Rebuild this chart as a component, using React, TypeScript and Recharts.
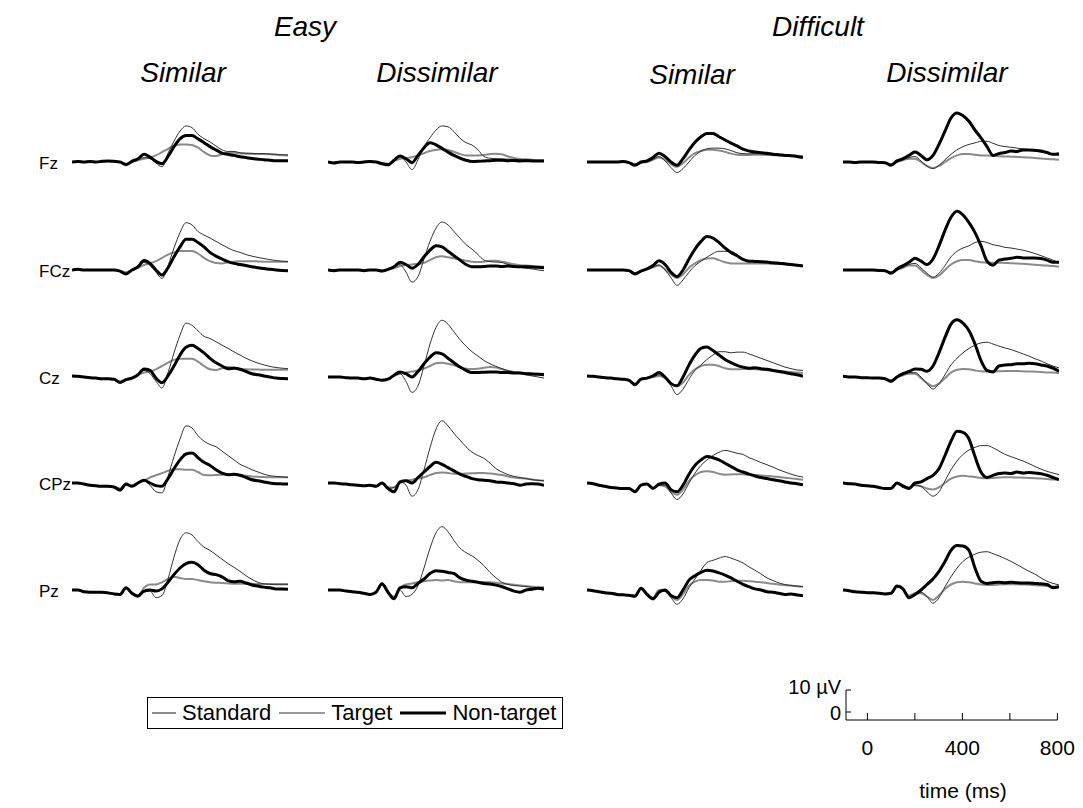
import React from 'react';
import { LineChart, Line, XAxis, YAxis } from 'recharts';

// time axis (ms), one sample every 25 ms
const times = [-100,-75,-50,-25,0,25,50,75,100,125,150,175,200,225,250,275,300,325,350,375,400,425,450,475,500,525,550,575,600,625,650,675,700,725,750,775,800];

const electrodes = ['Fz', 'FCz', 'Cz', 'CPz', 'Pz'];
const difficultyLabels = ['Easy', 'Difficult'];
const similarityLabels = ['Similar', 'Dissimilar', 'Similar', 'Dissimilar'];
const seriesNames = ['Standard', 'Target', 'Non-target'];
const scaleTimeTicks = [0, 200, 400, 600, 800];
const scaleTimeLabels = [0, 400, 800];
const scaleVoltTicks = [0, 10];

// ---- Fz ----
const fz_es_std = [0,0.2,0,0.2,0,0.2,0.3,0.2, 0,-0.8,0,0.8, 1.5,2,3,4.5, 6,7.3,7.9,8, 7.7,6.5,4.5,3, 2.7,3.5,4.2,4.2, 3.9,3.8,3.7,3.6, 3.6,3.5,3.3,3.1, 3];
const fz_es_tgt = [0,0.2,0,0.2,0,0.3,0.5,0.3, 0,-1,0.3,1, 2,1.5,-0.5,-2.2, 4,9.5,14,16.4, 15.6,12.6,10.6,9.1, 7.3,5.5,4.8,4.8, 4.2,4,3.9,3.8, 3.8,3.6,3.5,3.3, 3.2];
const fz_es_non = [0,0.2,0,0.2,0,0.3,0.5,0.3, 0,-1.2,0.3,1.5, 3.5,2.2,0.3,-0.8, 2.5,7,10.5,12, 12,10.5,8.8,7, 5.5,4,3.5,3, 2.4,2,1.6,1.3, 1,0.8,0.6,0.6, 0.6];

const fz_ed_std = [0,-0.3,0,0,0,-0.2,0,0.2, 0,-0.5,-0.8,0.5, 1.5,1.8,2.2,3, 4,5,5.5,5.8, 5.5,4.6,3.6,3, 3,3,3.2,3.6, 3.8,3.5,2.5,1.8, 1.4,1.2,1,0.8, 0.8];
const fz_ed_tgt = [0,-0.5,0,0,0,-0.2,0,0.2, 0,-0.8,-1.3,0.5, 2.5,0,-3.5,1, 7,11,14.5,16.4, 16,13.8,10.8,8.8, 7.7,5.5,2.5,1.7, 1.5,1.4,1.3,1.2, 1,0.9,0.8,0.6, 0.5];
const fz_ed_non = [0,-0.5,0,0,0,-0.2,0,0.2, 0,-0.8,-1.3,0.8, 2.7,1.5,-0.3,3, 6.5,8.8,7.8,6.2, 4.5,3,1.8,0.8, 0.2,0.3,0.5,0.6, 0.8,0.8,0.6,0.7, 0.5,0.6,0.5,0.5, 0.4];

const fz_ds_std = [0,0,0,0,0,0,0.2,-0.3, -1,-0.3,0,1, 2,1,-1,-2.2, -0.5,2,4,5, 5.6,5.6,5.2,4.6, 3.8,3.3,3.2,3.2, 3.3,3.3,3.2,3.1, 3,3,2.9,2.8, 2.7];
const fz_ds_tgt = [0,0,0,0,0,0,0.2,-0.3, -1.2,-0.3,0,1.2, 2.5,0.5,-2.5,-4.8, -3,0,3,5, 6,6.3,6.3,6, 5.2,4.2,3.8,3.7, 3.8,3.8,3.5,3.3, 3.1,2.9,2.7,2.5, 2.1];
const fz_ds_non = [0,0,0,0,0,0,0.2,-0.3, -1.5,0,0.5,2, 4,2.5,0,-1.5, 1.5,5.5,9,11.5, 13,13,11.5,10, 8.6,7.3,5.8,5, 4.5,4.2,4,3.5, 3.3,3,2.8,2.5, 2];

const fz_dd_std = [0,0,-0.2,0,0,0,-0.2,-0.3, -1,0,0.8,1.5, 1.5,0,-1.8,-2.7, -1.8,0,1.8,3, 3.6,3.6,3.3,3, 3,2.8,2.6,2.5, 2.4,2.3,2.2,2, 1.8,1.6,1.4,1.2, 1];
const fz_dd_tgt = [0,0,-0.2,0,0,0,-0.2,-0.3, -1,0,1,2, 2.5,0.5,-2,-3, -1.5,1,3.5,5.5, 7,8,8.7,9.4, 9.4,8.5,7.5,7, 6.7,6.3,6,5.5, 5,4.5,4,3.5, 3];
const fz_dd_non = [0,0,-0.2,0,0,0,-0.2,-0.3, -1.5,0.5,1.5,3, 4.5,3,1,3, 8,14,20,22.3, 21,18.5,14.5,11, 7,3,3.8,4.3, 5,4.8,5.5,5.5, 5.3,5,4.3,3.5, 3.8];

// ---- FCz ----
const fcz_es_std = [0,0.3,0,0,0,0,0,0, -0.5,-1,0,1, 2.3,3,4,5.5, 7,8,8.6,8.6, 8.6,7.5,5.5,4, 3.2,3,3.5,3.8, 4,4,4,3.9, 3.8,3.8,3.8,3.8, 3.8];
const fcz_es_tgt = [0,0.3,0,0,0,0,0,0, -0.5,-1.8,0,1.2, 3.5,2,-1,-3.8, 2,10,17,21.5, 20.5,17.5,15.9,14.5, 13,11.5,10,8.8, 8,7,6.3,5.7, 5.2,4.7,4.3,4, 3.8];
const fcz_es_non = [0,0.3,0,0,0,0,0,0, -0.5,-1.8,0,1.5, 4.3,3,0,-2.3, 1,6,10.5,14, 14,12.5,10.5,8, 6.3,5,3.8,3, 2.5,2,1.5,1, 0.7,0.3,0,-0.2, -0.3];

const fcz_ed_std = [0,-0.3,0,0,0,0,-0.3,0, 0,-0.3,0.2,0.8, 1.8,2.3,2.5,2.8, 3.3,4.5,5.8,6.2, 5.8,5.3,4.8,4.2, 3.8,3.6,3.8,4.2, 4.2,3.8,3.2,2.6, 2.2,2,1.8,1.6, 1.5];
const fcz_ed_tgt = [0,-0.3,0,0,0,0,-0.3,0, 0,-0.5,0.3,1, 2.5,-1,-5.5,-3, 5,13,19,21.8, 20.5,17.5,14.5,11.5, 9.5,7,4.5,3.8, 3.6,3.4,2.5,1.8, 1.2,0.8,0.5,0, -0.3];
const fcz_ed_non = [0,-0.3,0,0,0,0,-0.3,0, 0,-0.5,0.3,1.5, 3.5,2.5,0.8,2.5, 6,9,11,10.5, 8.5,6.5,4.5,2.5, 1.5,1.5,1.6,1.8, 1.8,1.6,1.8,1.6, 1.5,1.5,1.4,1.2, 1];

const fcz_ds_std = [0,0,0,0,0,0,0,-0.3, -1.5,-0.5,0.3,1.2, 2,0.3,-2,-3.6, -2,1,3,4.5, 5.2,5.3,4.5,3.5, 3,3,3,3, 3,3,2.9,2.8, 2.7,2.5,2.3,2.1, 2];
const fcz_ds_tgt = [0,0,0,0,0,0,0,-0.3, -1.5,-0.5,0.3,1.3, 2.3,0,-3.5,-7, -4.5,-1,2,4, 5.8,7.5,8.5,8.5, 8.5,7,5,4.3, 4,3.8,3.5,3.3, 3,2.8,2.5,2.2, 2];
const fcz_ds_non = [0,0,0,0,0,0,0,-0.3, -1.8,-0.5,0.5,2, 4.2,2.5,-1,-3, 0,5,9.5,13, 15.2,14.5,12.5,10, 8,6.5,4.8,4, 3.9,3.8,3.6,3.3, 3.1,2.8,2.5,2.2, 1.8];

const fcz_dd_std = [0,0,0,0,0,0,-0.2,-0.3, -1,0,1,2, 2,0,-2.2,-3.6, -2.5,0,2.5,4, 4.5,4.5,4,3.5, 3.3,3.3,3.3,3.2, 3.1,3,2.8,2.6, 2.4,2.2,2,1.8, 1.5];
const fcz_dd_tgt = [0,0,0,0,0,0,-0.2,-0.3, -1,0,1.2,2.5, 3,1,-1.5,-3.3, -1.5,2,6,8.5, 10,11,12.5,13, 12.5,11.5,11,10.3, 10,9.5,9,8.3, 7.5,6.5,5.5,4.5, 3.3];
const fcz_dd_non = [0,0,0,0,0,0,-0.2,-0.3, -1.5,0.5,2,3.5, 5.3,4,2.5,5, 11,18,24,26.7, 25,21.5,17,11, 4,2.2,4.5,5, 5.3,5.8,5.5,5.5, 5.5,5.2,4.5,3.5, 3.5];

// ---- Cz ----
const cz_es_std = [0.5,0.3,0,-0.3,-0.5,-0.8,-0.8,-1, -2,-1,-0.3,1, 2,2.5,3.5,5, 6.5,7.8,8.3,8.3, 8.3,7,5,3.5, 3.2,4,4.5,4.3, 3.8,3.5,3.4,3.4, 3.3,3.3,3.3,3.3, 3.3];
const cz_es_tgt = [0.5,0.3,0,-0.3,-0.5,-0.8,-0.8,-1, -2.5,-1.2,-0.5,0.8, 3,1.5,-2,-5, 2,11,19,24.5, 23.5,21,18.5,17.5, 16,14.5,13,11.4, 10,8.5,7.3,6.3, 5.5,4.8,4.3,4, 3.8];
const cz_es_non = [0.5,0.3,0,-0.3,-0.5,-0.8,-0.8,-1, -2.5,-1.2,-0.5,1, 3.6,3,-0.5,-2.6, 0.5,5,10,13.5, 14.4,13,11,8.5, 6.5,5,3.8,4, 3.5,2.5,1.5,1, 0.5,0,-0.5,-0.7, -0.8];

const cz_ed_std = [0,0,0,-0.3,-0.5,-0.5,-0.8,-0.5, -1,-1.2,-0.8,0.5, 1.5,2,2.5,3, 3.8,5,6.3,6.5, 6,5.3,4.5,3.8, 3.6,3.8,4.2,4.5, 4.3,3.5,2.8,2.3, 2,1.8,1.6,1.5, 1.5];
const cz_ed_tgt = [0,0,0,-0.3,-0.5,-0.5,-0.8,-0.5, -1,-1.5,-1,0.5, 1.5,-2,-7,-4, 5,15,22.5,25.8, 24,20.5,17,14, 11.5,9.5,7.5,6, 4.8,3.8,2.8,2, 1.5,1,0.5,0, -0.5];
const cz_ed_non = [0,0,0,-0.3,-0.5,-0.5,-0.8,-0.5, -1,-1.5,-1,0.8, 2.3,1.5,0,2.5, 6,9,11,10.5, 8.5,6.5,4.5,3, 2,2,2.2,2.3, 2.3,2,2,1.8, 1.8,1.5,1.4,1.2, 1];

const cz_ds_std = [0.5,0.3,0,-0.3,-0.5,-0.8,-1,-1.5, -3,-1,-0.5,0, 0.5,-0.5,-3,-4.2, -2.5,1,3.5,5, 5.6,5.6,5,4, 3.5,3.5,3.6,3.6, 3.5,3.3,3.1,2.9, 2.7,2.5,2.3,2, 1.8];
const cz_ds_tgt = [0.5,0.3,0,-0.3,-0.5,-0.8,-1,-1.5, -3,-1,-0.5,0, 1,-0.5,-4,-8, -5.5,-1,3,5.5, 8,10,11.5,11.5, 11,11.3,11.3,10.5, 9.5,8.5,7.5,6.5, 5.5,4.5,3.8,3.2, 3];
const cz_ds_non = [0.5,0.3,0,-0.3,-0.5,-0.8,-1,-1.5, -3.5,-1,-0.5,0.5, 2,0,-3,-4, 0,5.5,10,13, 13.6,12,10,8, 6.5,5.3,4.5,4, 4.2,3.8,3.5,3, 2.5,2,1.5,1, 0.3];

const cz_dd_std = [0.3,0,0,-0.3,-0.3,-0.5,-0.5,-0.8, -1.5,0,0.8,1.5, 1.5,-0.5,-2.8,-4.2, -3,-0.5,2,3.3, 3.6,3.5,3,2.6, 2.5,2.5,2.6,2.7, 2.7,2.7,2.6,2.5, 2.4,2.3,2.1,2, 1.8];
const cz_dd_tgt = [0.3,0,0,-0.3,-0.3,-0.5,-0.5,-0.8, -1.5,0,1,2, 2,0,-3,-5.5, -3,1,5.5,8.5, 11,13,14.5,15.5, 15.8,15,14,13.2, 12.5,11.5,10.5,9.5, 8.3,7.3,6,5, 4.1];
const cz_dd_non = [0.3,0,0,-0.3,-0.3,-0.5,-0.5,-0.8, -2,0,1.5,2.5, 3.6,3.5,2.6,5, 11,18,24,26, 24.5,21,15,7.5, 3,2.3,5,5.5, 5.6,6,6,6.2, 6,5.5,5,4, 2.6];

// ---- CPz ----
const cpz_es_std = [0,0,-0.5,-1,-1.3,-1.5,-1.5,-1.8, -2.5,-1,-1,0, 1,2.5,3.5,4.5, 5.5,6.3,6.3,6, 6,5,3.6,3.5, 3.6,3.8,4,3.8, 3.5,3.3,3,2.8, 2.7,2.6,2.6,2.6, 2.6];
const cpz_es_tgt = [0,0,-0.5,-1,-1.3,-1.5,-1.5,-1.8, -3.2,-0.5,-1.5,0, 1,-1,-4,-4.5, 3,12,20,26, 25,21.5,19,17.5, 16.5,14.5,12.5,10.5, 8.5,7.3,6,5, 4,3.3,3,2.8, 2.6];
const cpz_es_non = [0,0,-0.5,-1,-1.3,-1.5,-1.5,-1.8, -3.2,-0.5,-1.5,0, 1.2,0,-1.2,-1.5, 2,6.5,10.5,13.2, 13.6,11.5,9.4,8, 6,4.5,3.8,4, 3.5,2.5,1.5,1, 0.5,0,-0.3,-0.4, -0.5];

const cpz_ed_std = [0,0,-0.3,-0.5,-0.8,-1,-1.3,-1, -1.5,0,-2,-2, 0,1,1.5,2, 2.6,3.6,4.5,4.8, 4.5,4.2,4.2,4.3, 4.4,4.5,4.5,4.3, 4,3.6,3,2.5, 2.2,2,1.6,1.3, 1];
const cpz_ed_tgt = [0,0,-0.3,-0.5,-0.8,-1,-1.3,-1, -1.5,0,-2.5,-2, 0.5,-1,-6,-3, 6,16,24.5,28.3, 26,22.5,19.5,16.5, 14,12.5,11.2,9, 6.5,5,3.8,3, 2.5,2,1.5,1.2, 1];
const cpz_ed_non = [0,0,-0.3,-0.5,-0.8,-1,-1.3,-1, -1.5,0,-2.5,-4, 0.5,1,0,2.5, 5,7.5,9.4,8.5, 7,5.5,4,3, 2,1.5,1.3,1, 0.5,0.3,0,-0.3, -1,-0.5,-0.3,-0.5, -1];

const cpz_ds_std = [0,-0.3,-1,-1.5,-2,-2.3,-2.5,-2.5, -3.5,-1,-0.5,-2, -1,-1.5,-4,-5.3, -3,1,3.5,5, 5.3,5,4.2,3.8, 3.9,4,4,3.8, 3.6,3.4,3.2,3, 2.7,2.4,2.1,1.8, 1.5];
const cpz_ds_tgt = [0,-0.3,-1,-1.5,-2,-2.3,-2.5,-2.5, -3.5,-1,-0.5,-2.5, -1,-1,-4.5,-7.5, -5,0,4.5,8, 10.5,12.5,14,14.8, 14.3,13.5,13,11.5, 10.5,9.3,8.3,7.2, 6,5,4,3.2, 2.7];
const cpz_ds_non = [0,-0.3,-1,-1.5,-2,-2.3,-2.5,-2.5, -4,-1,-0.5,-2.5, -0.5,0,-3,-4, -1,4,8,10.5, 12,11.5,10.5,9, 7.5,6,5,4, 3.2,2.5,2,1.5, 1,0.5,0,-0.3, -0.8];

const cpz_dd_std = [0,-0.3,-0.5,-1,-1.3,-1.5,-2,-2.5, -2.3,0,-1,-2, -1,-1.5,-2.5,-3, -2,0,2,3, 3.3,3,2.7,2.3, 2.2,2.3,2.5,2.6, 2.6,2.5,2.4,2.3, 2.2,2,1.8,1.6, 1.5];
const cpz_dd_tgt = [0,-0.3,-0.5,-1,-1.3,-1.5,-2,-2.5, -2.3,0,-1,-2, -1,-1.5,-4,-6, -4,1,6,10, 13,15,16.2,17, 17,16,14.5,13, 12,11,10,8.8, 7.5,6.3,5.3,4.5, 3.8];
const cpz_dd_non = [0,-0.3,-0.5,-1,-1.3,-1.5,-2,-2.5, -2.5,0,-1.5,-2.5, 0,0.5,2,3.5, 6.5,12.5,19,23.5, 23,20,12,5, 2.5,3.5,4.3,4.5, 4.3,5,4.5,4.8, 4.5,4.2,3.5,2.5, 1.5];

// ---- Pz ----
const pz_es_std = [0,0,-0.8,-1,-1,-1,-1.3,-1.8, -2,1,-1.5,-2.5, 1,2.5,2.5,3.5, 5,6,5.5,5, 5,4.5,4,3.5, 3.3,3.2,3,2.8, 2.8,2.8,2.8,2.7, 2.7,2.7,2.7,2.7, 2.7];
const pz_es_tgt = [0,0,-0.8,-1,-1,-1,-1.3,-1.8, -2,1,-1.5,-2.5, -1,-0.5,-3.5,-2.5, 5,15,23,26, 25,22,19.5,18, 16,14,12,10.3, 8.5,6.5,4.8,3.5, 2.8,2.6,2.4,2.4, 2.4];
const pz_es_non = [0,0,-0.8,-1,-1,-1,-1.3,-1.8, -2,1,-1.5,-2.8, -0.5,0,-0.5,0.5, 3.5,7,10,12, 12.6,11.5,9,7.5, 7,6,4.3,3.8, 4,3.2,2.3,1.8, 1.3,1,0.5,0.5, 0.3];

const pz_ed_std = [0,0,0,-0.5,-0.8,-1,-1.5,-2, -1,2.5,-1,-3, 1,2.5,3,3.5, 4,4.3,4.5,4.3, 4.5,4,3.5,3.5, 3.5,3.6,3.6,3.5, 3.3,3,2.7,2.4, 2.1,1.8,1.5,1.3, 1.2];
const pz_ed_tgt = [0,0,0,-0.5,-0.8,-1,-1.5,-2, -1,2.5,-1,-4, 0,-3,-2,2, 10,19,26,28.8, 26.5,22.5,19,17, 15.5,13.5,11,8, 5.5,3.5,2.5,2, 1.8,1.5,1.2,1, 0.9];
const pz_ed_non = [0,0,0,-0.5,-0.8,-1,-1.5,-2, -1,2.8,-1,-4, 1,1.5,1,3, 5,7.5,8.8,8.5, 8,7.5,5.5,4.5, 4,3.5,3,2.7, 2.2,1.5,0.5,-0.5, -1,0,0.3,0.8, 0.3];

const pz_ds_std = [0,-0.3,-0.8,-1.2,-1.5,-2,-2.2,-2.4, -2.5,0.5,-2,-3.5, 0,-0.5,-3,-4.5, -2,2,3.8,4.5, 4.5,4.3,3.8,3.8, 4,4.2,4.2,4, 3.8,3.5,3.2,2.8, 2.5,2.2,2,1.7, 1.5];
const pz_ds_tgt = [0,-0.3,-0.8,-1.2,-1.5,-2,-2.2,-2.4, -2.5,0.5,-2,-3.5, -1,-0.5,-3.5,-6.5, -4,1,5,9, 12.5,13.5,14.5,15.2, 14.5,13.5,12.3,10.5, 9,7.3,5.5,4.3, 3.2,2.5,2,1.8, 1.5];
const pz_ds_non = [0,-0.3,-0.8,-1.2,-1.5,-2,-2.2,-2.4, -2.8,0.8,-2,-4, -1,0,-2.5,-3.5, 0,4.5,6.5,8, 9,8.6,7.8,6.8, 5.5,4,2.6,1.5, 0.5,0,-0.8,-1, -1.5,-2,-1.8,-2.3, -2.6];

const pz_dd_std = [0,-0.3,-0.8,-1,-1.2,-1.3,-1.5,-1.8, -1.5,1.5,0.5,-2.5, -1.5,-1.5,-3,-4.5, -2.5,0.5,2.5,3.5, 3.8,3.5,3,2.5, 2.3,2.3,2.5,2.6, 2.6,2.6,2.5,2.4, 2.2,2,1.8,1.6, 1.5];
const pz_dd_tgt = [0,-0.3,-0.8,-1,-1.2,-1.3,-1.5,-1.8, -1.5,1.5,0.5,-3, -2,-1,-3,-6, -3.5,1.5,6,10, 13,15,16.3,17.2, 17.4,16.5,15.5,14.3, 13,11.5,10,8.5, 7.2,5.5,4,3, 2.3];
const pz_dd_non = [0,-0.3,-0.8,-1,-1.2,-1.3,-1.5,-1.8, -1.5,1.8,0.5,-3.5, -2,0,2.5,5, 8.5,13,18,20.2, 20,18,10,4, 3,3.3,3.5,3.3, 3.5,3.3,3.2,3.2, 3,2.8,2.5,1, 1.5];

const panelSeries = [
  [[fz_es_std, fz_es_tgt, fz_es_non], [fz_ed_std, fz_ed_tgt, fz_ed_non], [fz_ds_std, fz_ds_tgt, fz_ds_non], [fz_dd_std, fz_dd_tgt, fz_dd_non]],
  [[fcz_es_std, fcz_es_tgt, fcz_es_non], [fcz_ed_std, fcz_ed_tgt, fcz_ed_non], [fcz_ds_std, fcz_ds_tgt, fcz_ds_non], [fcz_dd_std, fcz_dd_tgt, fcz_dd_non]],
  [[cz_es_std, cz_es_tgt, cz_es_non], [cz_ed_std, cz_ed_tgt, cz_ed_non], [cz_ds_std, cz_ds_tgt, cz_ds_non], [cz_dd_std, cz_dd_tgt, cz_dd_non]],
  [[cpz_es_std, cpz_es_tgt, cpz_es_non], [cpz_ed_std, cpz_ed_tgt, cpz_ed_non], [cpz_ds_std, cpz_ds_tgt, cpz_ds_non], [cpz_dd_std, cpz_dd_tgt, cpz_dd_non]],
  [[pz_es_std, pz_es_tgt, pz_es_non], [pz_ed_std, pz_ed_tgt, pz_ed_non], [pz_ds_std, pz_ds_tgt, pz_ds_non], [pz_dd_std, pz_dd_tgt, pz_dd_non]],
];

// ---- layout ----
const FONT = '"Liberation Sans", Arial, Helvetica, sans-serif';
const PANEL_W = 216;
const PANEL_LEFT = [72, 328, 587, 843];
const ROW_ZERO_Y = [162, 270, 376.5, 482.5, 590];
const Y_MIN = -15;
const Y_MAX = 30;
const PX_PER_UV = 2.2;
const PANEL_H = (Y_MAX - Y_MIN) * PX_PER_UV;

const STYLE = [
  { stroke: '#8a8a8a', width: 2 },
  { stroke: '#333333', width: 1 },
  { stroke: '#000000', width: 3 },
];

function Panel({ row, col }: { row: number; col: number }) {
  const [s, t, n] = panelSeries[row][col];
  const data = times.map((tm, i) => ({ t: tm, s: s[i], g: t[i], n: n[i] }));
  const top = ROW_ZERO_Y[row] - Y_MAX * PX_PER_UV;
  return (
    <div style={{ position: 'absolute', left: PANEL_LEFT[col], top }}>
      <LineChart width={PANEL_W} height={PANEL_H} data={data} margin={{ top: 0, right: 0, bottom: 0, left: 0 }}>
        <XAxis dataKey="t" type="number" domain={[-100, 800]} hide />
        <YAxis type="number" domain={[Y_MIN, Y_MAX]} hide />
        <Line type="monotone" dataKey="s" stroke={STYLE[0].stroke} strokeWidth={STYLE[0].width} dot={false} isAnimationActive={false} />
        <Line type="monotone" dataKey="g" stroke={STYLE[1].stroke} strokeWidth={STYLE[1].width} dot={false} isAnimationActive={false} />
        <Line type="monotone" dataKey="n" stroke={STYLE[2].stroke} strokeWidth={STYLE[2].width} dot={false} isAnimationActive={false} />
      </LineChart>
    </div>
  );
}

function Label({ x, y, text, size, italic, anchor = 'center' }: { x: number; y: number; text: string; size: number; italic?: boolean; anchor?: string }) {
  const tx = anchor === 'center' ? '-50%' : anchor === 'right' ? '-100%' : '0';
  return (
    <div style={{ position: 'absolute', left: x, top: y, transform: `translate(${tx}, -50%)`, fontFamily: FONT, fontSize: size, fontStyle: italic ? 'italic' : 'normal', whiteSpace: 'nowrap', lineHeight: 1, color: '#000' }}>
      {text}
    </div>
  );
}

function VoltTick(props: any) {
  const { x, y, payload } = props;
  const v = payload.value;
  return (
    <text x={x} y={y + (v === 10 ? -3 : 1)} textAnchor="end" dominantBaseline="central" fontSize={20} fontFamily={FONT} fill="#000">
      {v === 10 ? '10 µV' : '0'}
    </text>
  );
}

function ScaleBar() {
  // 0 ms at x=868, 400 ms at x=963 ; 0 uV at y=712, 10 uV at y=690
  const left = 746;
  const yAxisW = 100;
  const domainX: [number, number] = [-90, 800];
  const plotW = (domainX[1] - domainX[0]) * 0.2375;
  const plotTop = 690;
  const axisY = 720;
  const yMin = -((axisY - 712) / PX_PER_UV);
  const chartTop = 650;
  const xAxisH = 60;
  const rightPad = 24;
  const width = yAxisW + plotW + rightPad;
  const height = (plotTop - chartTop) + (axisY - plotTop) + xAxisH;
  const data = [{ t: -90, v: 0 }, { t: 800, v: 0 }];
  return (
    <div style={{ position: 'absolute', left, top: chartTop }}>
      <LineChart width={width} height={height} data={data} margin={{ top: plotTop - chartTop, right: rightPad, bottom: 0, left: 0 }}>
        <XAxis dataKey="t" type="number" domain={domainX} ticks={scaleTimeTicks} height={xAxisH} interval={0}
          tickFormatter={(v: number) => (scaleTimeLabels.includes(v) ? String(v) : '')}
          tickSize={-7} tickMargin={27} stroke="#000" tick={{ fill: '#000', fontSize: 21, fontFamily: FONT }} />
        <YAxis type="number" domain={[yMin, 10]} ticks={scaleVoltTicks} width={yAxisW} interval={0} allowDataOverflow
          tickSize={-5} tickMargin={10} stroke="#000" tick={<VoltTick />} />
        <Line dataKey="v" stroke="transparent" strokeWidth={0} dot={false} activeDot={false} isAnimationActive={false} />
      </LineChart>
    </div>
  );
}

function Legend() {
  const items = seriesNames.map((name, i) => ({ name, ...STYLE[i] }));
  return (
    <div style={{ position: 'absolute', left: 147, top: 697, width: 416, height: 32, border: '1px solid #000', boxSizing: 'border-box', display: 'flex', alignItems: 'center', paddingLeft: 4, fontFamily: FONT, fontSize: 22, whiteSpace: 'nowrap' }}>
      {items.map((it, i) => (
        <div key={i} style={{ display: 'flex', alignItems: 'center', marginRight: 8 }}>
          <svg width={i === 0 ? 24 : 46} height={10} style={{ marginRight: 6 }}>
            <line x1={0} y1={5} x2={i === 0 ? 24 : 46} y2={5} stroke={it.stroke} strokeWidth={it.width} />
          </svg>
          <span>{it.name}</span>
        </div>
      ))}
    </div>
  );
}

export default function App() {
  return (
    <div style={{ position: 'absolute', left: 0, top: 0, width: 1083, height: 808, background: '#fff', overflow: 'hidden' }}>
      <Label x={305} y={27} text={difficultyLabels[0]} size={28} italic />
      <Label x={818} y={27} text={difficultyLabels[1]} size={28} italic />
      <Label x={183} y={73} text={similarityLabels[0]} size={28} italic />
      <Label x={437} y={73} text={similarityLabels[1]} size={28} italic />
      <Label x={692} y={75} text={similarityLabels[2]} size={28} italic />
      <Label x={947} y={73} text={similarityLabels[3]} size={28} italic />
      {electrodes.map((e, r) => (
        <Label key={e} x={39} y={ROW_ZERO_Y[r] + 1} text={e} size={17} anchor="left" />
      ))}
      {electrodes.map((e, r) => [0, 1, 2, 3].map((c) => <Panel key={`${e}-${c}`} row={r} col={c} />))}
      <Legend />
      <ScaleBar />
      <Label x={963} y={790} text="time (ms)" size={21} />
    </div>
  );
}
